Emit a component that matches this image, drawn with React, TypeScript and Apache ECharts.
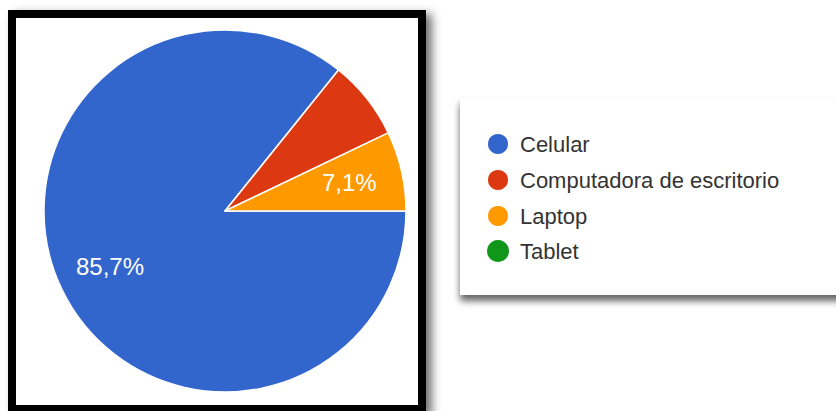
import React, { useEffect, useRef } from "react";
import * as echarts from "echarts";

const categories = ["Celular", "Computadora de escritorio", "Laptop", "Tablet"];
const percentages = [85.7, 7.1, 7.1, 0];
const showLabel = [true, false, true, false];
const colors = ["#3366cc", "#dc3912", "#ff9900", "#109618"];

const FONT = 'Arial, "Liberation Sans", sans-serif';

export default function App() {
  const ref = useRef<HTMLDivElement>(null);
  useEffect(() => {
    if (!ref.current) return;
    const chart = echarts.init(ref.current, null, { renderer: "svg" });
    const mainData = categories.map((name, i) => ({
      name,
      value: percentages[i],
      itemStyle: {
        color: colors[i],
        borderColor: "#ffffff",
        borderWidth: percentages[i] > 0 ? 1.5 : 0,
      },
    }));
    const labelData = categories.map((name, i) => ({
      name,
      value: percentages[i],
      label: { show: showLabel[i] },
    }));
    chart.setOption({
      animation: false,
      backgroundColor: "#ffffff",
      graphic: [
        {
          type: "rect",
          z: -10,
          shape: { x: 8, y: 10, width: 418, height: 403 },
          style: {
            fill: "#000000",
            shadowBlur: 10,
            shadowOffsetX: 6,
            shadowOffsetY: 4,
            shadowColor: "rgba(0,0,0,0.55)",
          },
        },
        {
          type: "rect",
          z: -9,
          shape: { x: 16, y: 18, width: 402, height: 387 },
          style: { fill: "#ffffff" },
        },
        {
          type: "rect",
          z: -10,
          shape: { x: 460, y: 98, width: 400, height: 197 },
          style: {
            fill: "#ffffff",
            shadowBlur: 7,
            shadowOffsetX: 0,
            shadowOffsetY: 6,
            shadowColor: "rgba(0,0,0,0.6)",
          },
        },
      ],
      legend: {
        orient: "vertical",
        left: 486,
        top: 132,
        padding: 0,
        itemWidth: 22,
        itemHeight: 22,
        itemGap: 12,
        icon: "circle",
        selectedMode: false,
        data: categories,
        textStyle: {
          fontFamily: FONT,
          fontSize: 22,
          color: "#333333",
          padding: [0, 0, 0, 6],
        },
      },
      series: [
        {
          type: "pie",
          name: "main",
          center: [225, 211],
          radius: [0, 181],
          startAngle: 0,
          clockwise: true,
          silent: true,
          label: { show: false },
          labelLine: { show: false },
          data: mainData,
        },
        {
          type: "pie",
          name: "labels",
          center: [225, 211],
          radius: [68, 181],
          startAngle: 0,
          clockwise: true,
          silent: true,
          itemStyle: { color: "rgba(0,0,0,0)", borderWidth: 0 },
          label: {
            position: "inside",
            color: "#ffffff",
            fontFamily: FONT,
            fontSize: 24,
            formatter: (p: any) => p.value.toFixed(1).replace(".", ",") + "%",
          },
          labelLine: { show: false },
          data: labelData,
        },
      ],
    });
    return () => chart.dispose();
  }, []);
  return (
    <div
      ref={ref}
      style={{ position: "fixed", left: 0, top: 0, width: 836, height: 411 }}
    />
  );
}
